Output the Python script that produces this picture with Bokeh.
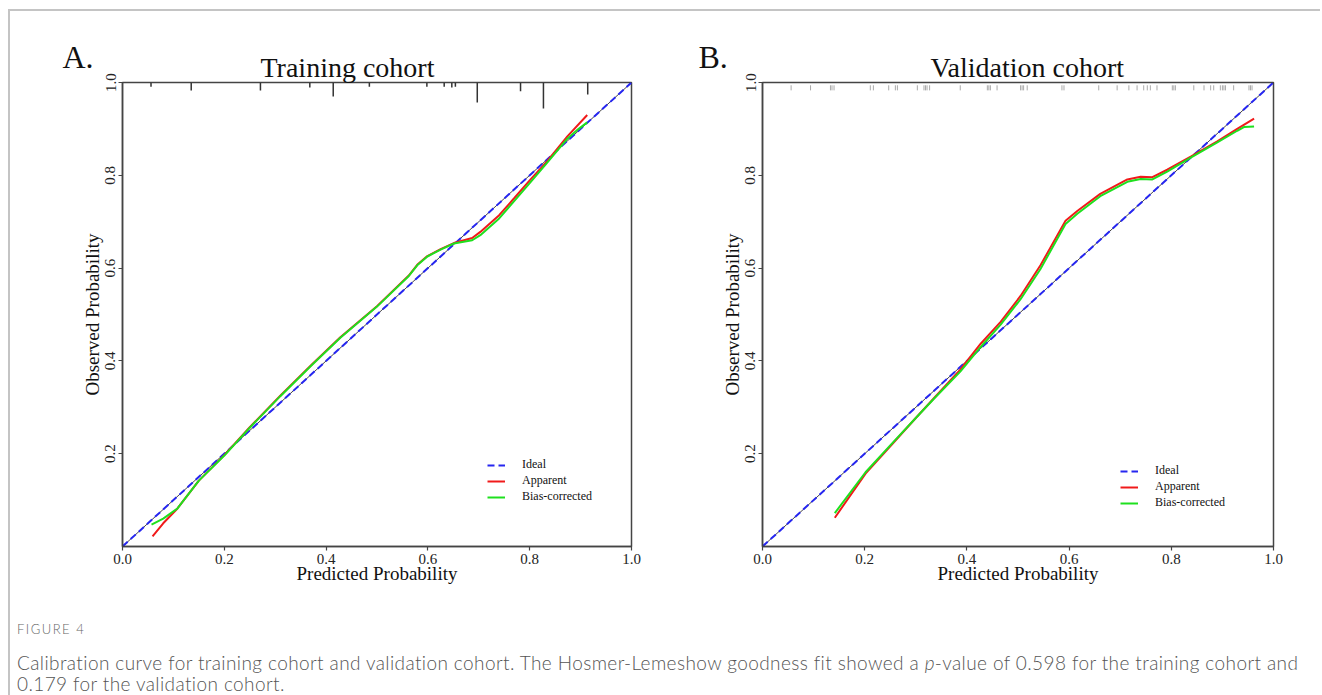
from bokeh.plotting import figure
from bokeh.models import (Range1d, FixedTicker, PrintfTickFormatter, Legend, Div, Title)
from bokeh.layouts import row, column
from bokeh.embed import file_html
from bokeh.resources import INLINE

# ---------------- data ----------------
ideal_x = [0.0, 1.0]
ideal_y = [0.0, 1.0]

# Panel A: training cohort
train_app_x = [0.059, 0.08, 0.108, 0.15, 0.2, 0.25, 0.31, 0.37, 0.428, 0.5, 0.5625, 0.579, 0.599,
               0.625, 0.651, 0.687, 0.703, 0.74, 0.769, 0.80, 0.834, 0.874, 0.913]
train_app_y = [0.022, 0.05, 0.082, 0.142, 0.197, 0.257, 0.325, 0.390, 0.451, 0.518, 0.584, 0.607, 0.626,
               0.641, 0.654, 0.665, 0.678, 0.714, 0.750, 0.789, 0.830, 0.884, 0.930]
train_bc_x = [0.057, 0.08, 0.108, 0.15, 0.2, 0.25, 0.31, 0.37, 0.428, 0.5, 0.5625, 0.579, 0.599,
              0.625, 0.651, 0.687, 0.703, 0.74, 0.769, 0.80, 0.834, 0.874, 0.895, 0.913]
train_bc_y = [0.047, 0.060, 0.082, 0.142, 0.196, 0.256, 0.324, 0.389, 0.450, 0.517, 0.583, 0.606, 0.625,
              0.640, 0.653, 0.660, 0.671, 0.707, 0.744, 0.783, 0.827, 0.879, 0.899, 0.914]
train_rug_x = [0.056, 0.135, 0.271, 0.368, 0.414, 0.485, 0.598, 0.632, 0.647, 0.654, 0.697, 0.782, 0.827, 0.914]
train_rug_len = [0.009, 0.017, 0.017, 0.011, 0.030, 0.009, 0.009, 0.009, 0.011, 0.009, 0.043, 0.019, 0.056, 0.026]

# Panel B: validation cohort
val_app_x = [0.1415, 0.2016, 0.25, 0.30, 0.335, 0.387, 0.427, 0.466, 0.505, 0.544, 0.593, 0.616, 0.661,
             0.714, 0.740, 0.763, 0.792, 0.838, 0.890, 0.929, 0.962]
val_app_y = [0.062, 0.157, 0.216, 0.277, 0.319, 0.381, 0.437, 0.484, 0.540, 0.606, 0.702, 0.723, 0.760,
             0.791, 0.797, 0.796, 0.812, 0.840, 0.873, 0.900, 0.922]
val_bc_x = [0.1415, 0.2016, 0.25, 0.30, 0.335, 0.387, 0.427, 0.466, 0.505, 0.544, 0.593, 0.616, 0.661,
            0.714, 0.740, 0.763, 0.792, 0.838, 0.890, 0.929, 0.942, 0.962]
val_bc_y = [0.072, 0.160, 0.218, 0.277, 0.318, 0.377, 0.430, 0.478, 0.533, 0.598, 0.695, 0.717, 0.755,
            0.786, 0.792, 0.791, 0.808, 0.838, 0.871, 0.896, 0.904, 0.905]
val_rug_x = [0.056, 0.094, 0.133, 0.136, 0.140, 0.211, 0.217, 0.247, 0.260, 0.264, 0.303, 0.316, 0.319,
             0.322, 0.327, 0.387, 0.440, 0.443, 0.446, 0.459, 0.505, 0.508, 0.511, 0.518, 0.586, 0.590,
             0.658, 0.694, 0.717, 0.733, 0.746, 0.753, 0.759, 0.772, 0.802, 0.805, 0.808, 0.844, 0.864,
             0.877, 0.883, 0.896, 0.900, 0.903, 0.906, 0.922, 0.952, 0.955, 0.958]

x_ticks = [0.0, 0.2, 0.4, 0.6, 0.8, 1.0]
y_ticks = [0.2, 0.4, 0.6, 0.8, 1.0]

legend_labels = ["Ideal", "Apparent", "Bias-corrected"]
titles = ["Training cohort", "Validation cohort"]
panel_letters = ["A.", "B."]
x_label = "Predicted Probability"
y_label = "Observed Probability"

SERIF = "Liberation Serif"
AX = "#444444"
RED = "#f01a1a"
GREEN = "#1ee01e"
BLUE = "#2626f0"


def make_panel(title, letter, app_x, app_y, bc_x, bc_y, width, left, right, legend_loc,
               title_offset, letter_offset):
    # the figure's own title holds the panel letter (outer band, pulled down next to the cohort title)
    p = figure(width=width, height=589, x_range=Range1d(0, 1), y_range=Range1d(0, 1),
               output_backend="svg", toolbar_location=None, title=letter,
               min_border_left=left, min_border_right=right, min_border_top=71, min_border_bottom=54)
    p.title.text_font = SERIF
    p.title.text_font_size = "32px"
    p.title.text_font_style = "normal"
    p.title.text_color = "#111111"
    p.title.align = "left"
    p.title.offset = letter_offset
    p.title.standoff = -50
    # cohort title, nearest to the frame
    p.add_layout(Title(text=title, align="left", offset=title_offset, standoff=0,
                       text_font=SERIF, text_font_size="28px", text_font_style="normal",
                       text_color="#111111"), "above")
    p.grid.visible = False
    p.outline_line_color = AX
    p.outline_line_width = 1.5
    p.outline_line_alpha = 1.0
    p.background_fill_color = "white"
    p.border_fill_color = "white"

    p.xaxis.ticker = FixedTicker(ticks=x_ticks)
    p.yaxis.ticker = FixedTicker(ticks=y_ticks)
    p.xaxis.formatter = PrintfTickFormatter(format="%.1f")
    p.yaxis.formatter = PrintfTickFormatter(format="%.1f")
    p.yaxis.major_label_orientation = "vertical"
    p.xaxis.axis_label = x_label
    p.yaxis.axis_label = y_label
    for ax in (p.xaxis[0], p.yaxis[0]):
        ax.axis_line_color = AX
        ax.axis_line_width = 1.5
        ax.major_tick_line_color = AX
        ax.major_tick_line_width = 1.2
        ax.major_tick_out = 4
        ax.major_tick_in = 0
        ax.minor_tick_line_color = None
        ax.major_label_text_font = SERIF
        ax.major_label_text_font_size = "15px"
        ax.major_label_text_color = "#222222"
        ax.axis_label_text_font = SERIF
        ax.axis_label_text_font_size = "19px"
        ax.axis_label_text_font_style = "normal"
        ax.axis_label_text_color = "#111111"
    p.xaxis.major_label_standoff = 3
    p.xaxis.axis_label_standoff = -4
    p.yaxis.major_label_standoff = 3
    p.yaxis.axis_label_standoff = 0

    p.line(ideal_x, ideal_y, line_color="#444444", line_width=1.0)
    r_ideal = p.line(ideal_x, ideal_y, line_color=BLUE, line_width=2, line_dash="7 4")
    r_app = p.line(app_x, app_y, line_color=RED, line_width=2)
    r_bc = p.line(bc_x, bc_y, line_color=GREEN, line_width=2)

    legend = Legend(items=[(legend_labels[0], [r_ideal]), (legend_labels[1], [r_app]),
                           (legend_labels[2], [r_bc])],
                    location=legend_loc, orientation="vertical",
                    border_line_color=None, background_fill_alpha=0,
                    padding=0, margin=0, spacing=1, glyph_width=18, glyph_height=14,
                    label_height=14, label_standoff=17,
                    label_text_font=SERIF, label_text_font_size="12px", label_text_color="#111111")
    p.add_layout(legend)
    return p


pA = make_panel(titles[0], panel_letters[0], train_app_x, train_app_y, train_bc_x, train_bc_y,
                640, 112, 19, (365, 42), 138, -60)
pA.segment(x0=train_rug_x, x1=train_rug_x, y0=[1.0] * len(train_rug_x),
           y1=[1.0 - l for l in train_rug_len], line_color="#333333", line_width=1.5)

pB = make_panel(titles[1], panel_letters[1], val_app_x, val_app_y, val_bc_x, val_bc_y,
                664, 112, 41, (358, 36), 168, -64)
pB.segment(x0=val_rug_x, x1=val_rug_x, y0=[0.994] * len(val_rug_x),
           y1=[0.983] * len(val_rug_x), line_color="#aaaaaa", line_width=1)

caption_html = (
    "<div style=\"font-family:'Lato'; font-weight:300; color:#555555; padding-left:2px; white-space:nowrap;\">"
    "<div style=\"font-size:13px; letter-spacing:1.5px; color:#666666; line-height:16px; margin-top:16px;\">FIGURE 4</div>"
    "<div style=\"font-size:19px; letter-spacing:0.4px; line-height:24px; margin-top:14px;\">"
    "Calibration curve for training cohort and validation cohort. The Hosmer-Lemeshow goodness fit showed a "
    "<i>p</i>-value of 0.598 for the training cohort and</div>"
    "<div style=\"font-size:19px; letter-spacing:0.4px; line-height:14px; margin-top:2px;\">"
    "0.179 for the validation cohort.</div></div>"
)
caption = Div(text=caption_html, width=1300, height=94)

layout = column(row(pA, pB), caption, margin=(9, 0, 0, 8),
                styles={"border-left": "2px solid #c4c4c4", "border-top": "2px solid #c4c4c4"})

open("out.html", "w").write(file_html(layout, INLINE))
